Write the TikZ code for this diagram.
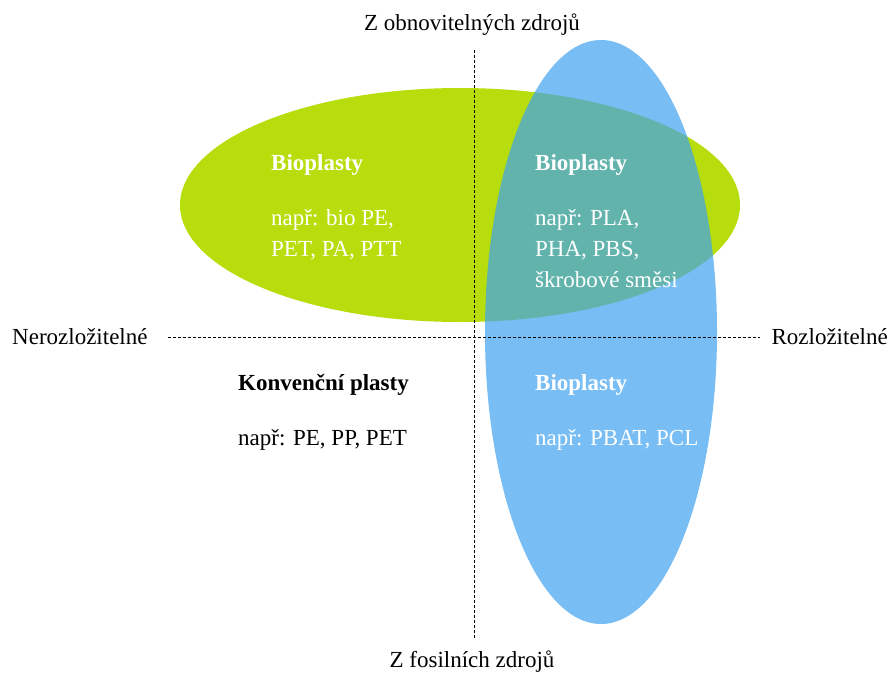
\documentclass[tikz,border=0pt]{standalone}
\usepackage{fontspec}
\setmainfont{Liberation Serif}
\usetikzlibrary{positioning,calc}
\definecolor{biogreen}{RGB}{183,221,12}
\definecolor{bioblue}{RGB}{62,162,241}

\begin{document}
\begin{tikzpicture}[x=1pt,y=-1pt,
    lbl/.style={font=\fontsize{23}{27}\selectfont, inner sep=0pt},
    txt/.style={font=\fontsize{23}{31}\selectfont, inner sep=0pt, anchor=north west, align=left},
    axis/.style={densely dashed, line width=0.8pt}]
  \useasboundingbox (0,0) rectangle (891,675);
  % the two ellipses, blue one half transparent over the green one
  \fill[biogreen] (460,205) ellipse [x radius=280, y radius=117];
  \fill[bioblue,opacity=0.7] (601,332) ellipse [x radius=116, y radius=292];
  % axis labels
  \node[lbl] (top) at (472,25) {Z obnovitelných zdrojů};
  \node[lbl] (bot) at (472,662) {Z fosilních zdrojů};
  \node[lbl,anchor=west] (nero) at (12,337) {Nerozložitelné};
  \node[lbl,anchor=east] (rozl) at (888,337) {Rozložitelné};
  \draw[axis] ($(top.south)+(2,14)$) -- ($(bot.north)+(2,-12)$);
  \draw[axis] ($(nero.east)+(20,0)$) -- ($(rozl.west)+(-11,0)$);
  % quadrant texts
  \node[txt,white] (q1) at (271,154) {\textbf{Bioplasty}\\[24pt]např: bio PE,\\PET, PA, PTT};
  \node[txt,white] (q2) at (535,154) {\textbf{Bioplasty}\\[24pt]např: PLA,\\PHA, PBS,\\škrobové směsi};
  \node[txt] (q3) at (238,374) {\textbf{Konvenční plasty}\\[24pt]např: PE, PP, PET};
  \node[txt,white] (q4) at (535,374) {\textbf{Bioplasty}\\[24pt]např: PBAT, PCL};
\end{tikzpicture}
\end{document}
